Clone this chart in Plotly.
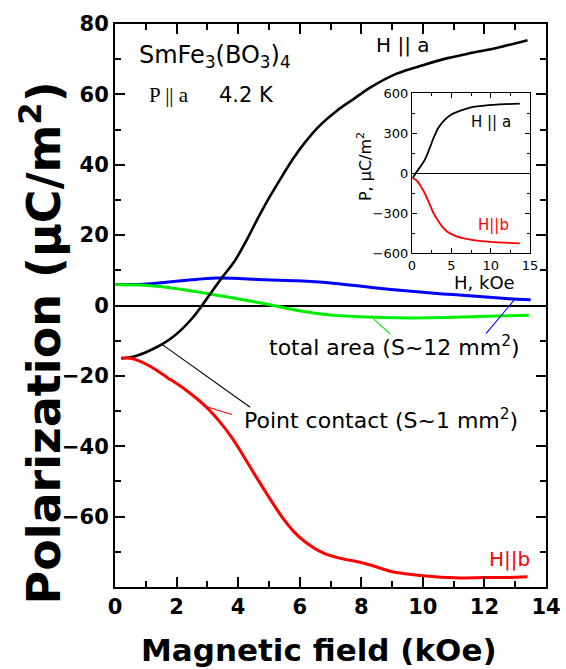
import plotly.graph_objects as go

# ---------------- data ----------------
field_a = [0.2, 0.5, 0.8, 1.2, 1.55, 1.9, 2.2, 2.5, 2.75, 3.15, 3.5, 3.9, 4.3, 4.66, 5.0, 5.41, 5.8, 6.16, 6.6, 7.23, 7.77, 8.3, 9.15, 10.0, 10.8, 11.6, 12.4, 13.4]
pol_a = [-15.0, -14.7, -14.0, -12.5, -10.9, -8.8, -6.5, -3.7, -0.9, 4.0, 8.2, 12.8, 19.0, 25.1, 30.5, 36.5, 41.9, 46.2, 50.7, 55.5, 58.8, 62.0, 65.9, 68.3, 70.3, 71.8, 73.2, 75.4]

field_b = [0.2, 0.5, 0.9, 1.3, 1.67, 2.3, 2.96, 3.4, 3.8, 4.0, 4.5, 5.0, 5.4, 5.8, 6.18, 6.76, 7.3, 7.92, 8.5, 8.97, 9.5, 10.0, 11.05, 12.0, 12.7, 13.4]
pol_b = [-15.0, -15.0, -16.2, -18.1, -20.3, -24.0, -28.8, -33.0, -37.6, -40.3, -47.5, -54.5, -59.8, -64.2, -67.2, -70.3, -71.8, -72.9, -74.3, -75.6, -76.3, -76.8, -77.4, -77.3, -77.3, -77.1]

field_blue = [0.0, 0.8, 1.66, 2.5, 3.26, 4.0, 4.87, 5.94, 7.0, 8.5, 9.16, 10.65, 11.3, 12.8, 13.5]
pol_blue = [6.0, 6.0, 6.6, 7.3, 7.8, 7.7, 7.3, 7.0, 6.4, 5.0, 4.4, 3.3, 2.9, 1.9, 1.6]

field_green = [0.0, 0.8, 1.66, 2.73, 3.8, 4.87, 5.94, 7.0, 8.0, 9.16, 10.2, 11.3, 12.4, 13.44]
pol_green = [6.0, 5.8, 5.2, 3.8, 2.2, 0.5, -1.4, -2.7, -3.2, -3.5, -3.5, -3.3, -3.0, -2.8]

# inset (large-area data, P in uC/m^2)
inset_field_a = [0.1, 0.6, 1.6, 2.2, 2.8, 3.4, 4.1, 5.0, 5.75, 7.8, 10.75, 13.7]
inset_pol_a = [-37, 10, 97, 180, 272, 345, 397, 440, 460, 497, 515, 522]
inset_field_b = [0.1, 0.6, 1.16, 1.7, 2.2, 2.7, 3.25, 3.9, 4.5, 5.5, 6.6, 8.0, 9.9, 13.7]
inset_pol_b = [-37, -55, -102, -160, -227, -295, -352, -405, -440, -470, -490, -505, -515, -527]

# pointer lines (label leaders) in data coordinates
lead_point_black_x = [1.55, 4.39]
lead_point_black_y = [-11.2, -28.9]
lead_point_red_x = [2.95, 3.8]
lead_point_red_y = [-28.7, -31.0]
lead_total_green_x = [8.4, 8.94]
lead_total_green_y = [-3.8, -8.1]
lead_total_blue_x = [12.97, 12.05]
lead_total_blue_y = [1.6, -8.0]

x_ticks = [0, 2, 4, 6, 8, 10, 12, 14]
y_ticks = [-60, -40, -20, 0, 20, 40, 60, 80]
inset_x_ticks = [0, 5, 10, 15]
inset_y_ticks = [-600, -300, 0, 300, 600]

SANS = "DejaVu Sans"

fig = go.Figure()

# main curves
fig.add_trace(go.Scatter(x=field_blue, y=pol_blue, mode="lines", line=dict(color="#0000ff", width=3, shape="spline", smoothing=0.8)))
fig.add_trace(go.Scatter(x=field_green, y=pol_green, mode="lines", line=dict(color="#00ee00", width=3, shape="spline", smoothing=0.8)))
fig.add_trace(go.Scatter(x=field_a, y=pol_a, mode="lines", line=dict(color="black", width=2.6, shape="spline", smoothing=0.8)))
fig.add_trace(go.Scatter(x=field_b, y=pol_b, mode="lines", line=dict(color="#ff0000", width=3, shape="spline", smoothing=0.8)))

# leader lines
for lx, ly, c in [(lead_point_black_x, lead_point_black_y, "black"),
                  (lead_point_red_x, lead_point_red_y, "#ff0000"),
                  (lead_total_green_x, lead_total_green_y, "#00ee00"),
                  (lead_total_blue_x, lead_total_blue_y, "#0000ff")]:
    fig.add_trace(go.Scatter(x=lx, y=ly, mode="lines", line=dict(color=c, width=1.1)))

# inset curves
fig.add_trace(go.Scatter(x=inset_field_a, y=inset_pol_a, mode="lines",
                         line=dict(color="black", width=1.8, shape="spline", smoothing=0.8),
                         xaxis="x2", yaxis="y2"))
fig.add_trace(go.Scatter(x=inset_field_b, y=inset_pol_b, mode="lines",
                         line=dict(color="#ff0000", width=1.8, shape="spline", smoothing=0.8),
                         xaxis="x2", yaxis="y2"))

axis_common = dict(showgrid=False, showline=True, linecolor="black", mirror="allticks",
                   ticks="inside", tickcolor="black")

fig.update_layout(
    width=566, height=669,
    margin=dict(l=115, r=17, t=24, b=82),
    paper_bgcolor="white", plot_bgcolor="white",
    showlegend=False,
    font=dict(family=SANS, color="black"),
    xaxis=dict(**axis_common, range=[0, 14], tickvals=x_ticks, linewidth=2, ticklen=10, tickwidth=2,
               zeroline=False, automargin=False,
               minor=dict(dtick=1, ticklen=6, tickwidth=1.5, ticks="inside", tickcolor="black"),
               tickfont=dict(family=SANS, size=21, weight="bold")),
    yaxis=dict(**axis_common, range=[-80, 80], tickvals=y_ticks, linewidth=2, ticklen=10, tickwidth=2,
               zeroline=True, zerolinecolor="black", zerolinewidth=1.5, automargin=False,
               minor=dict(dtick=10, ticklen=6, tickwidth=1.5, ticks="inside", tickcolor="black"),
               tickfont=dict(family=SANS, size=21, weight="bold")),
    xaxis2=dict(**axis_common, domain=[0.689, 0.963], anchor="y2", range=[0, 15], tickvals=inset_x_ticks,
                linewidth=1.3, ticklen=5, tickwidth=1.2, zeroline=False,
                minor=dict(dtick=2.5, ticklen=3, tickwidth=1, ticks="inside", tickcolor="black"),
                tickfont=dict(family=SANS, size=13)),
    yaxis2=dict(**axis_common, domain=[0.593, 0.877], anchor="x2", range=[-600, 600], tickvals=inset_y_ticks,
                linewidth=1.3, ticklen=5, tickwidth=1.2,
                zeroline=True, zerolinecolor="black", zerolinewidth=1.2,
                minor=dict(dtick=150, ticklen=3, tickwidth=1, ticks="inside", tickcolor="black"),
                tickfont=dict(family=SANS, size=13)),
)

ann = []
# main axis titles (annotations, positioned like the reference)
ann.append(dict(x=(40 - 115) / 434, y=(587 - 343) / 563, xref="paper", yref="paper", xanchor="center", yanchor="middle",
                showarrow=False, textangle=-90, text="Polarization (μC/m<sup>2</sup>)",
                font=dict(family=SANS, size=46, weight="bold")))
ann.append(dict(x=(320.5 - 115) / 434, y=(587 - 669) / 563, xref="paper", yref="paper", xanchor="center", yanchor="bottom",
                showarrow=False, text="Magnetic field (kOe)", borderpad=0,
                font=dict(family=SANS, size=31, weight="bold")))
ann.append(dict(x=0.73, y=70.8, xref="x", yref="y", xanchor="left", yanchor="middle", showarrow=False,
                text="SmFe<sub>3</sub>(BO<sub>3</sub>)<sub>4</sub>", font=dict(family=SANS, size=24)))
ann.append(dict(x=1.03, y=59.7, xref="x", yref="y", xanchor="left", yanchor="middle", showarrow=False,
                text="P || a", font=dict(family="Liberation Serif", size=21)))
ann.append(dict(x=3.32, y=59.7, xref="x", yref="y", xanchor="left", yanchor="middle", showarrow=False,
                text="4.2 K", font=dict(family=SANS, size=21)))
ann.append(dict(x=9.35, y=74.0, xref="x", yref="y", xanchor="center", yanchor="middle", showarrow=False,
                text="H || a", font=dict(family=SANS, size=20)))
ann.append(dict(x=12.83, y=-72.0, xref="x", yref="y", xanchor="center", yanchor="middle", showarrow=False,
                text="H||b", font=dict(family=SANS, size=20, color="#ff0000")))
ann.append(dict(x=9.09, y=-11.4, xref="x", yref="y", xanchor="center", yanchor="middle", showarrow=False,
                text="total area (S~12 mm<sup>2</sup>)", font=dict(family=SANS, size=22)))
ann.append(dict(x=8.65, y=-32.2, xref="x", yref="y", xanchor="center", yanchor="middle", showarrow=False,
                text="Point contact (S~1 mm<sup>2</sup>)", font=dict(family=SANS, size=22)))
# inset labels
ann.append(dict(x=10.1, y=382, xref="x2", yref="y2", xanchor="center", yanchor="middle", showarrow=False,
                text="H || a", font=dict(family=SANS, size=15)))
ann.append(dict(x=10.4, y=-390, xref="x2", yref="y2", xanchor="center", yanchor="middle", showarrow=False,
                text="H||b", font=dict(family=SANS, size=15, color="#ff0000")))
ann.append(dict(x=0.578, y=0.746, xref="paper", yref="paper", xanchor="center", yanchor="middle", showarrow=False,
                textangle=-90, text="P, μC/m<sup>2</sup>", font=dict(family=SANS, size=16)))
ann.append(dict(x=0.857, y=0.540, xref="paper", yref="paper", xanchor="center", yanchor="middle", showarrow=False,
                text="H, kOe", font=dict(family=SANS, size=18)))
fig.update_layout(annotations=ann)

fig.write_html("out.html")
